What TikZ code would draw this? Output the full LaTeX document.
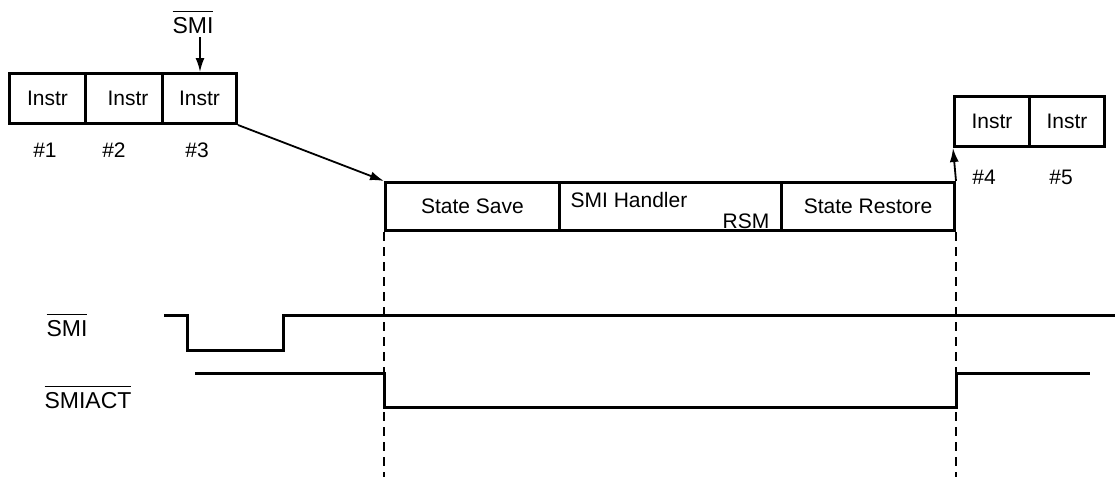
\documentclass[tikz,border=0pt]{standalone}
\usepackage{fontspec}
\setmainfont{Liberation Sans}
\usetikzlibrary{positioning,arrows.meta}
\newcommand{\actlow}[1]{\vbox{\hrule height 1.6pt \kern 4.5pt \hbox{#1}}}
\tikzset{
  cell/.style   ={draw, line width=3pt, anchor=north west, inner sep=0pt, minimum height=50pt, font=\fontsize{21}{24}\selectfont},
  midcell/.style={cell, minimum height=48pt},
  txt/.style    ={inner sep=0pt, font=\fontsize{21}{24}\selectfont},
  sig/.style    ={inner sep=0pt, anchor=base, font=\fontsize{23}{26}\selectfont},
  wave/.style   ={line width=3pt},
  guide/.style  ={line width=2.2pt, dash pattern=on 9pt off 6pt},
  arr/.style    ={-{Latex[length=14pt, width=9pt]}, line width=1.8pt},
}
\begin{document}
\begin{tikzpicture}[x=1pt, y=-1pt]
  \useasboundingbox (0,0) rectangle (1115,477);

  % instructions before the SMI
  \node[cell, minimum width=76pt] (i1) at (8,72)   {Instr};
  \node[cell, minimum width=77pt] (i2) at (84,72)  {\hspace*{8pt}Instr};
  \node[cell, minimum width=74pt] (i3) at (161,72) {Instr};
  \node[txt] (n1) at (45,150)  {\#1};
  \node[txt] (n2) at (114,150) {\#2};
  \node[txt] (n3) at (197,150) {\#3};
  \node[sig] (smitop) at (193,33) {\actlow{SMI}};

  % SMM sequence
  \node[midcell, minimum width=174pt] (save)    at (384,181) {State Save};
  \node[midcell, minimum width=222pt] (handler) at (558,181) {};
  \node[midcell, minimum width=173pt] (restore) at (780,181) {State Restore};
  \node[txt] (hdl) at (629,200) {SMI Handler};
  \node[txt] (rsm) at (746,221) {RSM};

  % instructions after RSM
  \node[cell, minimum width=75pt] (i4) at (953,95)  {Instr};
  \node[cell, minimum width=75pt] (i5) at (1028,95) {Instr};
  \node[txt] (n4) at (984,177)  {\#4};
  \node[txt] (n5) at (1061,177) {\#5};

  \draw[arr] ([xshift=7pt,yshift=-4pt]smitop.south) -- ([xshift=7pt]smitop.south |- i3.north);
  \draw[arr] (i3.south east) -- (save.north west);
  \draw[arr] (restore.north east) -- (i4.south west);

  \draw[guide] (save.south west) -- ++(0,245);
  \draw[guide] (restore.south east) -- ++(0,245);

  % signals
  \node[sig] (smilbl)    at (67,336)  {\actlow{SMI}};
  \node[sig] (smiactlbl) at (88,408)  {\actlow{SMIACT}};
  \draw[wave] (164,315) -- (187,315) -- (187,350) -- (283,350) -- (283,315) -- (1115,315);
  \draw[wave] (195,373) -| (save.south west |- 0,407) -| (restore.south east |- 0,373) -- (1090,373);
\end{tikzpicture}
\end{document}
